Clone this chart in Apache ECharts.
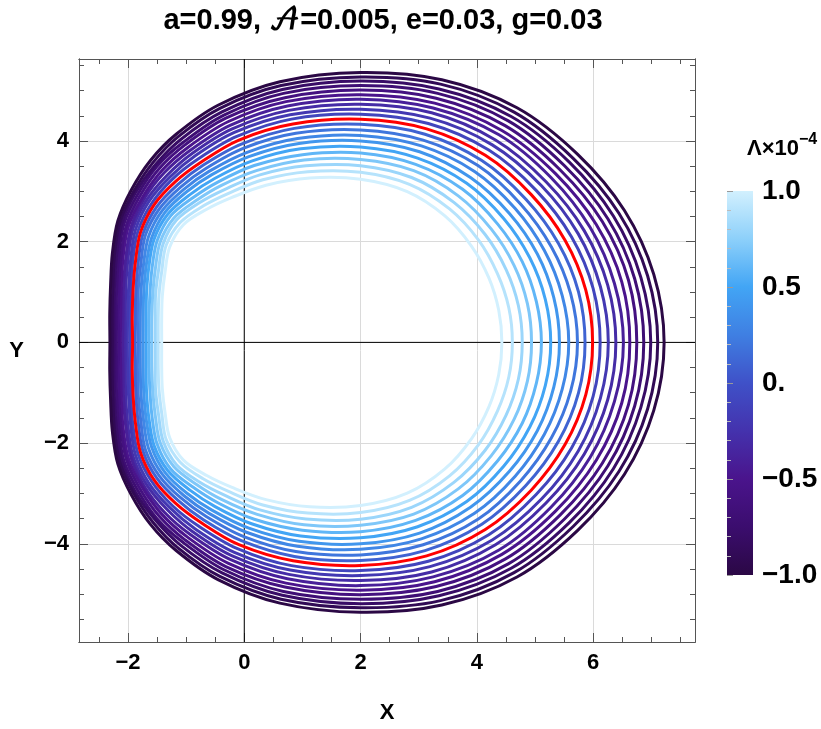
<!DOCTYPE html>
<html><head><meta charset="utf-8">
<script src="https://cdn.jsdelivr.net/npm/echarts@6/dist/echarts.min.js"></script>
<style>html,body{margin:0;padding:0;background:#fff}#c{width:821px;height:729px}</style>
</head><body><div id="c"></div>
<script>
// Λ ×10^-4 for each contour, innermost (lightest) to outermost (darkest)
const lambdaValues = [1.0,0.9,0.8,0.7,0.6,0.5,0.4,0.3,0.2,0.1,0.0,-0.1,-0.2,-0.3,-0.4,-0.5,-0.6,-0.7,-0.8,-0.9,-1.0];
// rays from the point (2, 0): angle in degrees, and the distance at which every contour crosses the ray
const rayCenter = [2.0, 0];
const rayAngles = [0,15,30,45,60,75,90,105,117.5,127.5,135,142.5,150,157.5,165,172.5,180];
const r000 = [2.43,2.61,2.78,2.94,3.11,3.27,3.42,3.58,3.73,3.86,3.99,4.12,4.26,4.39,4.52,4.63,4.75,4.87,4.99,5.11,5.22];
const r015 = [2.46,2.64,2.81,2.97,3.13,3.29,3.44,3.59,3.74,3.88,4.01,4.14,4.27,4.40,4.52,4.65,4.77,4.88,4.99,5.11,5.22];
const r030 = [2.55,2.72,2.89,3.05,3.21,3.36,3.51,3.65,3.79,3.93,4.06,4.19,4.32,4.44,4.56,4.68,4.80,4.91,5.02,5.13,5.24];
const r045 = [2.70,2.87,3.03,3.18,3.33,3.48,3.62,3.76,3.89,4.02,4.15,4.27,4.40,4.51,4.63,4.74,4.85,4.96,5.07,5.17,5.28];
const r060 = [2.90,3.06,3.21,3.36,3.51,3.65,3.78,3.92,4.05,4.17,4.29,4.41,4.53,4.64,4.76,4.86,4.97,5.08,5.18,5.28,5.38];
const r075 = [3.10,3.25,3.39,3.53,3.66,3.79,3.92,4.04,4.16,4.28,4.39,4.50,4.61,4.72,4.82,4.92,5.02,5.12,5.21,5.31,5.40];
const r090 = [3.24,3.38,3.51,3.63,3.76,3.88,4.00,4.11,4.22,4.33,4.43,4.53,4.63,4.73,4.83,4.92,5.01,5.10,5.19,5.27,5.36];
const r105 = [3.38,3.51,3.63,3.75,3.86,3.98,4.09,4.19,4.30,4.40,4.49,4.59,4.68,4.77,4.86,4.95,5.03,5.12,5.20,5.28,5.36];
const r117 = [3.52,3.64,3.75,3.85,3.96,4.06,4.16,4.25,4.35,4.44,4.53,4.61,4.70,4.78,4.86,4.94,5.02,5.09,5.16,5.24,5.31];
const r127 = [3.63,3.73,3.83,3.93,4.02,4.11,4.20,4.28,4.36,4.44,4.51,4.59,4.67,4.74,4.81,4.88,4.95,5.01,5.08,5.15,5.21];
const r135 = [3.74,3.83,3.92,3.99,4.07,4.15,4.23,4.30,4.37,4.44,4.51,4.58,4.64,4.70,4.77,4.83,4.89,4.95,4.99,5.05,5.11];
const r142 = [3.84,3.91,3.99,4.05,4.12,4.18,4.24,4.30,4.36,4.42,4.48,4.53,4.59,4.64,4.69,4.73,4.78,4.83,4.88,4.92,4.97];
const r150 = [3.79,3.86,3.92,3.98,4.04,4.10,4.15,4.21,4.27,4.32,4.37,4.42,4.47,4.52,4.56,4.61,4.65,4.70,4.74,4.78,4.82];
const r157 = [3.64,3.70,3.76,3.82,3.88,3.94,3.99,4.04,4.09,4.14,4.19,4.24,4.28,4.33,4.37,4.42,4.46,4.50,4.54,4.58,4.62];
const r165 = [3.53,3.59,3.65,3.70,3.75,3.81,3.86,3.91,3.96,4.00,4.05,4.09,4.13,4.18,4.22,4.26,4.30,4.34,4.38,4.41,4.45];
const r172 = [3.45,3.51,3.56,3.62,3.67,3.72,3.77,3.82,3.87,3.91,3.96,4.00,4.04,4.08,4.12,4.16,4.20,4.24,4.28,4.31,4.35];
const r180 = [3.42,3.48,3.53,3.59,3.64,3.69,3.74,3.79,3.83,3.88,3.92,3.96,4.01,4.05,4.09,4.13,4.16,4.20,4.24,4.27,4.31];
const xTickValues = [-2,0,2,4,6];
const yTickValues = [-4,-2,0,2,4];
const barTickValues = [1.0,0.5,0.0,-0.5,-1.0];
const barTickLabels = ['1.0','0.5','0.','\u22120.5','\u22121.0'];
const highlightLambda = 0.0;

const rays = [r000,r015,r030,r045,r060,r075,r090,r105,r117,r127,r135,r142,r150,r157,r165,r172,r180];
const XMIN=-2.842, XMAX=7.751, YMIN=-5.95, YMAX=5.628;
const colorStops = [[-1,'#2b0845'],[-0.75,'#3b0d6e'],[-0.5,'#4a148c'],[-0.25,'#4432ad'],[0,'#3f51c8'],[0.25,'#3f7fe2'],[0.5,'#42a5f5'],[0.75,'#8dd0fa'],[1,'#d2f0fe']];
function hex(c){return [parseInt(c.slice(1,3),16),parseInt(c.slice(3,5),16),parseInt(c.slice(5,7),16)];}
function colorAt(v){
  for(let i=0;i<colorStops.length-1;i++){
    const a=colorStops[i], b=colorStops[i+1];
    if(v<=b[0]+1e-9){const t=(v-a[0])/(b[0]-a[0]);const ca=hex(a[1]),cb=hex(b[1]);
      return 'rgb('+ca.map((x,j)=>Math.round(x+(cb[j]-x)*t)).join(',')+')';}
  }
  return colorStops[colorStops.length-1][1];
}
const minus = v => String(v).replace('-','\u2212');
const FONT = "'Liberation Sans', Arial, 'DejaVu Sans', sans-serif";
const idx = lambdaValues.map((l,k)=>k);
const order = idx.filter(k=>lambdaValues[k]!==highlightLambda).concat(idx.filter(k=>lambdaValues[k]===highlightLambda));

function range(a,b,s){const o=[];for(let v=a;v<=b+1e-9;v+=s)o.push(Math.round(v*100)/100);return o;}
const xMinor = range(-2.5,7.5,0.5).filter(v=>v%2!==0);
const yMinor = range(-5.5,5.5,0.5).filter(v=>v%2!==0);
const frameColor = '#555';
function axisX(pos, vals, len, labels, i){
  return {gridIndex:0, type:'value', position:pos, min:XMIN, max:XMAX,
    axisLine:{show:true,onZero:false,lineStyle:{color:frameColor,width:1}},
    axisTick:{show:true,inside:true,length:len,customValues:vals,lineStyle:{color:frameColor}},
    axisLabel:{show:labels,customValues:vals,formatter:minus,color:'#000',fontFamily:FONT,fontWeight:'bold',fontSize:22,margin:10},
    splitLine:{show:i===0,lineStyle:{color:'#dadada',width:1}},
    name: i===0?'X':'', nameLocation:'middle', nameGap:60,
    nameTextStyle:{color:'#000',fontFamily:FONT,fontWeight:'bold',fontSize:22}};
}
function axisY(pos, vals, len, labels, i){
  return {gridIndex:0, type:'value', position:pos, min:YMIN, max:YMAX,
    axisLine:{show:true,onZero:false,lineStyle:{color:frameColor,width:1}},
    axisTick:{show:true,inside:true,length:len,customValues:vals,lineStyle:{color:frameColor}},
    axisLabel:{show:labels,customValues:vals,formatter:minus,color:'#000',fontFamily:FONT,fontWeight:'bold',fontSize:22,margin:10},
    splitLine:{show:i===0,lineStyle:{color:'#dadada',width:1}},
    name: i===0?'Y':'', nameLocation:'middle', nameGap:55, nameRotate:0,
    nameTextStyle:{color:'#000',fontFamily:FONT,fontWeight:'bold',fontSize:22}};
}
// closed smooth outline through the crossing points (chord-weighted cubic Bezier)
function closedSplinePath(p){
  const n=p.length, cpN=[], cpP=[];
  const dist=(a,b)=>Math.hypot(a[0]-b[0],a[1]-b[1]);
  for(let i=0;i<n;i++){
    const a=p[(i-1+n)%n], b=p[i], c=p[(i+1)%n];
    const v=[c[0]-a[0],c[1]-a[1]], d0=dist(a,b), d1=dist(b,c), s=d0+d1||1;
    cpN.push([b[0]+v[0]*d1/s/3, b[1]+v[1]*d1/s/3]);
    cpP.push([b[0]-v[0]*d0/s/3, b[1]-v[1]*d0/s/3]);
  }
  const f=x=>x.toFixed(2);
  let d='M'+f(p[0][0])+' '+f(p[0][1]);
  for(let i=0;i<n;i++){
    const j=(i+1)%n;
    d+=' C'+f(cpN[i][0])+' '+f(cpN[i][1])+' '+f(cpP[j][0])+' '+f(cpP[j][1])+' '+f(p[j][0])+' '+f(p[j][1]);
  }
  return d+' Z';
}
const chart = echarts.init(document.getElementById('c'), null, {renderer:'canvas'});
const barGrad = colorStops.slice().reverse().map(s=>({offset:(1-s[0])/2,color:s[1]}));
const option = {
  animation:false,
  grid:[{left:79,top:59,width:616,height:598,containLabel:false},
        {left:727,top:191,width:26,height:384,containLabel:false}],
  xAxis:[axisX('bottom',xTickValues,9,true,0),axisX('bottom',xMinor,5,false,1),
         axisX('top',xTickValues,9,false,2),axisX('top',xMinor,5,false,3),
         {gridIndex:1,type:'value',min:0,max:1,show:false}],
  yAxis:[axisY('left',yTickValues,9,true,0),axisY('left',yMinor,5,false,1),
         axisY('right',yTickValues,9,false,2),axisY('right',yMinor,5,false,3),
         {gridIndex:1,type:'value',position:'right',min:-1,max:1,interval:0.5,
          axisLine:{show:false},
          axisTick:{show:true,inside:false,length:6,lineStyle:{color:'#999'}},
          minorTick:{show:true,splitNumber:5,length:4,lineStyle:{color:'#bbb'}},
          splitLine:{show:false},
          axisLabel:{margin:9,color:'#000',fontFamily:FONT,fontWeight:'bold',fontSize:28,
            formatter:v=>{const i=barTickValues.findIndex(b=>Math.abs(b-v)<1e-6);return i>=0?barTickLabels[i]:'';}}}],
  graphic:[
    {type:'rect',shape:{x:727,y:191,width:26,height:384},z:-1,
     style:{fill:new echarts.graphic.LinearGradient(0,0,0,1,barGrad)}},
    {type:'text',x:383,y:21,style:{text:'a=0.99, \uD835\uDC9C=0.005, e=0.03, g=0.03',textAlign:'center',textVerticalAlign:'middle',
      fontFamily:FONT+", 'DejaVu Math TeX Gyre'",fontWeight:'bold',fontSize:29,fill:'#000'}},
    {type:'text',x:747,y:146,style:{text:'{a|\u039B\u00D710}{s|\u22124}',textVerticalAlign:'middle',
      rich:{a:{fontFamily:FONT,fontWeight:'bold',fontSize:22,fill:'#000',lineHeight:28,verticalAlign:'bottom'},
            s:{fontFamily:FONT,fontWeight:'bold',fontSize:16,fill:'#000',lineHeight:28,verticalAlign:'top'}}}}
  ],
  series:[
    {type:'line',xAxisIndex:0,yAxisIndex:0,data:[[0,YMIN],[0,YMAX]],symbol:'none',silent:true,lineStyle:{color:'#000',width:1},z:1},
    {type:'line',xAxisIndex:0,yAxisIndex:0,data:[[XMIN,0],[XMAX,0]],symbol:'none',silent:true,lineStyle:{color:'#000',width:1},z:1},
    {type:'custom',xAxisIndex:0,yAxisIndex:0,z:2,silent:true,
     data: order.map(k=>[k, lambdaValues[k]]),
     encode:{x:-1,y:-1},
     renderItem:(params,api)=>{
       const k = api.value(0);
       const lam = lambdaValues[k];
       const pts=[];
       for(let j=0;j<rayAngles.length;j++){const t=rayAngles[j]*Math.PI/180;const r=rays[j][k];
         pts.push(api.coord([rayCenter[0]+r*Math.cos(t), rayCenter[1]+r*Math.sin(t)]));}
       for(let j=rayAngles.length-2;j>=1;j--){const t=rayAngles[j]*Math.PI/180;const r=rays[j][k];
         pts.push(api.coord([rayCenter[0]+r*Math.cos(t), rayCenter[1]-r*Math.sin(t)]));}
       return {type:'path',shape:{pathData:closedSplinePath(pts)},
         style:{fill:'none',stroke: lam===highlightLambda?'#ff0000':colorAt(lam),lineWidth:3,lineJoin:'round'}};
     }}
  ]
};
chart.setOption(option);
</script></body></html>
